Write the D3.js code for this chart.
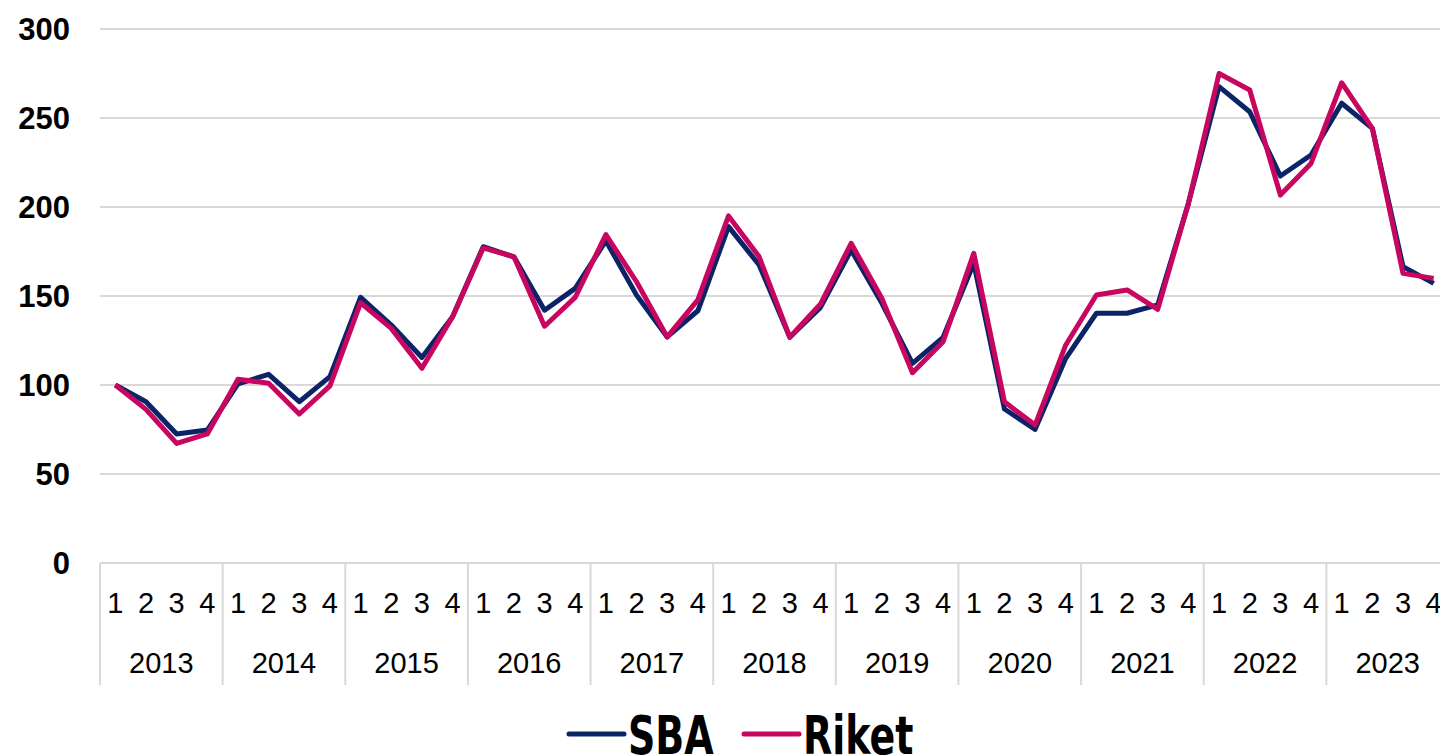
<!DOCTYPE html>
<html><head><meta charset="utf-8">
<script src="https://cdn.jsdelivr.net/npm/d3@7"></script>
<style>html,body{margin:0;padding:0;background:#fff;overflow:hidden}</style>
</head><body>
<svg id="c" width="1440" height="755"></svg>
<script>
const years = ["2013","2014","2015","2016","2017","2018","2019","2020","2021","2022","2023"];
const quarters = ["1","2","3","4"];
const sba = [100,90.6,72.5,74.7, 100.6,106,90.6,104.7, 149.3,133.7,115.5,138.4, 177.7,172,142,154.3,
  181,150.5,127,141.7, 189,167.4,126.8,143.6, 175.8,146,112.2,126.8, 168.4,86.5,75.1,115,
  140.3,140.3,145,202, 267.6,253.5,217.4,229.2, 258.3,244.2,166.5,157.1];
const riket = [100,86.3,67.2,72.5, 103.2,101,83.7,99.5, 146.2,131.8,109.4,138.4, 177,172,133,149.2,
  184.5,158,127,147.8, 195,172,126.8,145.5, 179.6,148.7,106.9,124.3, 174,90.6,77.5,122.5,
  150.6,153.4,142.5,202, 275,265.7,206.7,224.5, 269.8,244.2,162.7,159.9];
const yTicks = [0,50,100,150,200,250,300];
const seriesNames = ["SBA","Riket"];
const colors = ["#0b2468","#c8065f"];

const svg = d3.select("#c");
const keys = [];
years.forEach(y => quarters.forEach(q => keys.push(y + "-" + q)));
const x = d3.scaleBand().domain(keys).range([100, 1449]).padding(0);
const xc = k => x(k) + x.bandwidth() / 2;
const y = d3.scaleLinear().domain([0, 300]).range([563, 29]);
const font = "'Liberation Sans', Arial, sans-serif";

// gridlines
svg.append("g").selectAll("line").data(yTicks.filter(t => t > 0)).join("line")
  .attr("x1", 100).attr("x2", 1449).attr("y1", d => y(d)).attr("y2", d => y(d))
  .attr("stroke", "#d9d9d9").attr("stroke-width", 2);

// y labels
svg.append("g").selectAll("text").data(yTicks).join("text")
  .attr("x", 70).attr("y", d => y(d)).attr("dy", "0.36em")
  .attr("text-anchor", "end").attr("font-family", font).attr("font-weight", "bold")
  .attr("font-size", 31).attr("fill", "#000").text(d => d);

// x axis line + separators
svg.append("line").attr("x1", 100).attr("x2", 1449).attr("y1", y(0)).attr("y2", y(0))
  .attr("stroke", "#d9d9d9").attr("stroke-width", 2);
const yearScale = d3.scaleBand().domain(years).range([100, 1449]);
svg.append("g").selectAll("line").data(years).join("line")
  .attr("x1", d => yearScale(d)).attr("x2", d => yearScale(d))
  .attr("y1", y(0)).attr("y2", 685).attr("stroke", "#d9d9d9").attr("stroke-width", 2);

// quarter labels
svg.append("g").selectAll("text").data(keys).join("text")
  .attr("x", d => xc(d)).attr("y", 613)
  .attr("text-anchor", "middle").attr("font-family", font).attr("font-size", 29)
  .attr("fill", "#000").text(d => d.split("-")[1]);
// year labels
svg.append("g").selectAll("text").data(years).join("text")
  .attr("x", d => yearScale(d) + yearScale.bandwidth() / 2).attr("y", 673)
  .attr("text-anchor", "middle").attr("font-family", font).attr("font-size", 29)
  .attr("fill", "#000").text(d => d);

// lines
const line = d3.line().x((d, i) => xc(keys[i])).y(d => y(d));
[sba, riket].forEach((s, i) => {
  svg.append("path").datum(s).attr("d", line).attr("fill", "none")
    .attr("stroke", colors[i]).attr("stroke-width", 5).attr("stroke-linejoin", "round");
});

// legend
const leg = svg.append("g");
const legX = [569, 744];
seriesNames.forEach((n, i) => {
  leg.append("line").attr("x1", legX[i]).attr("x2", legX[i] + 55).attr("y1", 734).attr("y2", 734)
    .attr("stroke", colors[i]).attr("stroke-width", 5).attr("stroke-linecap", "round");
  leg.append("text").attr("transform", `translate(${legX[i] + 59},754) scale(1,1.42)`)
    .attr("font-family", "'DejaVu Sans', sans-serif").attr("font-weight", "bold").attr("font-size", 38)
    .attr("fill", "#000").text(n);
});
</script>
</body></html>
